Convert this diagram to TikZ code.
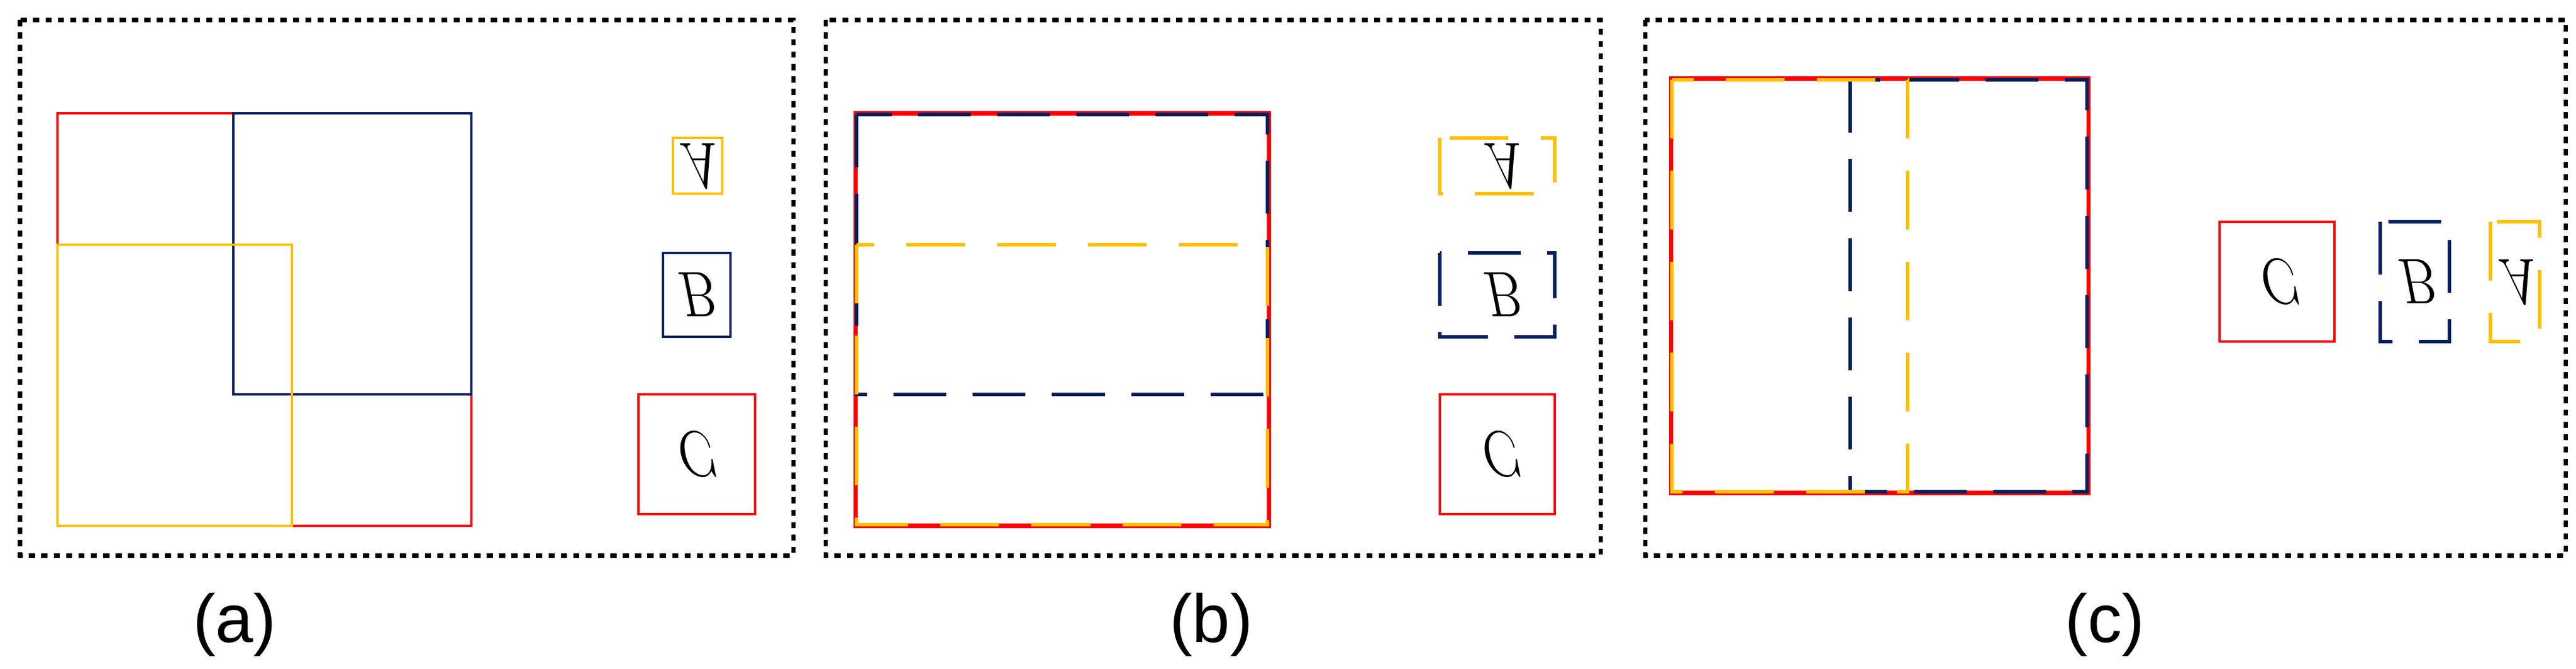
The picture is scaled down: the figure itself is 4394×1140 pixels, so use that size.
\documentclass[tikz,border=0pt]{standalone}
\usepackage{fontspec}
\setsansfont{Liberation Sans}
\begin{document}
\begin{tikzpicture}[x=0.01cm,y=-0.01cm,
  frame/.style={draw=black,line width=2pt,dash pattern=on 3pt off 3pt},
  rd/.style={draw=red,line width=1.3pt},
  bl/.style={draw={rgb,255:red,0;green,32;blue,96},line width=1.3pt},
  yl/.style={draw={rgb,255:red,255;green,192;blue,0},line width=1.3pt},
  bld/.style={bl,line width=1.5pt,dash pattern=on 0.9cm off 0.45cm},
  yld/.style={yl,line width=1.5pt,dash pattern=on 1cm off 0.55cm},
  lbl/.style={font=\fontsize{36}{40}\selectfont, inner sep=0pt, yscale=-1.25, xscale=1},
  captxt/.style={font=\sffamily\fontsize{33}{36}\selectfont}]
\useasboundingbox (0,0) rectangle (4394,1140);
% (a)
\draw[frame] (34,34) rectangle (1353,947);
\draw[rd] (98,193) rectangle (804,896);
\draw[bl] (398,193) rectangle (804,672);
\draw[yl] (98,417) rectangle (498,896);
\draw[yl] (1148,235) rectangle (1232,330);
\node[lbl] (aA) at (1190,282) {$A$};
\draw[bl] (1131,431) rectangle (1246,574);
\node[lbl] (aB) at (1188,502) {$B$};
\draw[rd] (1089,672) rectangle (1288,876);
\node[lbl] (aC) at (1190,774) {$C$};
\node[captxt] (la) at (400,1064) {(a)};
% (b)
\draw[frame] (1408,34) rectangle (2730,947);
\draw[rd,line width=2pt] (1459,193) rectangle (2164,896);
\draw[bld] (1461,195) rectangle (2162,672);
\draw[yld] (1461,417) rectangle (2162,894);
\draw[yld] (2456,235) rectangle (2652,330);
\node[lbl] (bA) at (2562,282) {$A$};
\draw[bld] (2456,431) rectangle (2652,574);
\node[lbl] (bB) at (2562,502) {$B$};
\draw[rd] (2456,672) rectangle (2652,876);
\node[lbl] (bC) at (2562,774) {$C$};
\node[captxt] (lb) at (2066,1064) {(b)};
% (c)
\draw[frame] (2806,34) rectangle (4376,947);
\draw[rd,line width=2pt] (2850,134) rectangle (3562,840);
\draw[bld] (3156,136) rectangle (3560,838);
\draw[yld] (2852,136) rectangle (3254,838);
\draw[rd] (3786,378) rectangle (3982,582);
\node[lbl] (cC) at (3890,480) {$C$};
\draw[bld] (4060,378) rectangle (4178,582);
\node[lbl] (cB) at (4122,480) {$B$};
\draw[yld] (4248,378) rectangle (4332,582);
\node[lbl] (cA) at (4292,480) {$A$};
\node[captxt] (lc) at (3590,1064) {(c)};
\end{tikzpicture}
\end{document}
